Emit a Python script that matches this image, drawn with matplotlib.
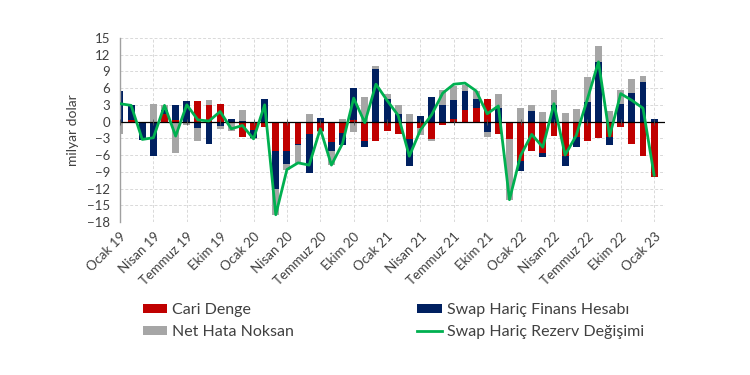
import matplotlib
matplotlib.use("Agg")
import matplotlib.pyplot as plt
import numpy as np

plt.rcParams['font.family'] = ['Lato', 'DejaVu Sans']

# aylar: Ocak 2019 - Ocak 2023
ay_adlari = ["Ocak", "Nisan", "Temmuz", "Ekim"]
yillar = ["19", "20", "21", "22", "23"]

cari = [0.0, 0.2, -0.3, -0.3, 1.3, 0.2, -0.1, 3.7, 2.9, 3.1, 0.0, -2.8,
        -1.6, -1.0, -5.2, -5.2, -4.1, -2.3, -1.7, -3.7, -2.0, 0.2, -3.5, -3.4,
        -1.7, -2.3, -3.1, -1.1, -3.1, -0.7, 0.4, 2.0, 2.5, 4.0, -2.2, -3.2,
        -7.0, -5.3, -5.6, -2.5, -6.1, -2.8, -3.5, -2.9, -2.7, -1.0, -4.1, -6.1,
        -9.9]
finans = [5.4, 2.7, -3.0, -5.9, 0.7, 2.8, 3.6, -1.1, -4.1, -0.8, 0.4, 0.1,
          -1.3, 4.0, -6.8, -2.4, -0.1, -7.0, 0.6, -1.5, -2.2, 5.9, -1.1, 9.4,
          4.1, 1.4, -4.8, 1.0, 4.4, 2.9, 3.4, 3.5, 1.5, -1.9, 2.5, 0.0,
          -1.8, 1.9, -0.8, 2.9, -1.8, -1.7, 3.5, 10.7, -1.5, 3.2, 5.2, 7.1,
          0.5]
net_hata = [-2.3, 0.0, 0.0, 3.2, 0.9, -5.6, -0.5, -2.4, 1.0, -0.6, -1.7, 2.0,
            -0.2, 0.0, -4.7, -1.0, -3.2, 1.4, -0.2, -2.6, 0.4, -1.9, 4.4, 0.6,
            0.8, 1.5, 1.4, -1.3, -0.3, 2.7, 2.6, 1.0, 1.4, -0.8, 2.4, -10.8,
            2.5, 1.0, 1.8, 2.7, 1.6, 2.2, 4.4, 2.9, 1.9, 2.5, 2.4, 1.1,
            0.0]
rezerv = [3.2, 2.9, -3.2, -2.9, 2.9, -2.6, 3.0, 0.3, 0.1, 1.8, -1.3, -0.7,
          -3.1, 3.0, -16.7, -8.6, -7.4, -7.8, -1.3, -7.8, -3.9, 4.2, -0.2, 6.7,
          3.8, 1.1, -6.2, -1.5, 1.2, 5.1, 6.7, 6.9, 5.5, 1.4, 2.8, -14.0,
          -6.1, -2.3, -4.6, 3.2, -6.0, -2.5, 4.0, 10.7, -2.6, 5.0, 3.8, 2.4,
          -9.6]


def main():
    x = np.arange(len(cari))
    fig = plt.figure(figsize=(7.5, 3.75), dpi=100)
    ax = fig.add_axes([0.16, 0.408, 0.727, 0.491])

    seriler = [
        (cari, "#C00000", "Cari Denge"),
        (finans, "#002060", "Swap Hariç Finans Hesabı"),
        (net_hata, "#A6A6A6", "Net Hata Noksan"),
    ]
    pos_alt = np.zeros(len(x))
    neg_alt = np.zeros(len(x))
    bars = {}
    for deger, renk, ad in seriler:
        d = np.array(deger)
        alt = np.where(d >= 0, pos_alt, neg_alt)
        bars[ad] = ax.bar(x, d, bottom=alt, width=0.62, color=renk, label=ad, zorder=2)
        pos_alt = pos_alt + np.where(d >= 0, d, 0)
        neg_alt = neg_alt + np.where(d < 0, d, 0)

    cizgi, = ax.plot(x, rezerv, color="#00B050", linewidth=2.0, zorder=3,
                     label="Swap Hariç Rezerv Değişimi")

    ax.axhline(0, color="black", linewidth=0.9, zorder=2.5)
    ticks = x[::3]
    ax.plot(ticks, np.zeros(len(ticks)), linestyle="none", marker="|",
            markersize=4, color="#555555", markeredgewidth=0.6, zorder=2.6)

    etiketler = []
    for i in range(len(ticks)):
        etiketler.append(ay_adlari[i % 4] + " " + yillar[i // 4])
    ax.set_xticks(ticks)
    ax.set_xticklabels(etiketler, rotation=45, ha="right", rotation_mode="anchor",
                       fontsize=9.5, color="#404040")
    ax.tick_params(axis="x", length=0, pad=6)

    ax.set_ylim(-18, 15)
    ax.set_yticks(np.arange(-18, 16, 3))
    ax.tick_params(axis="y", length=0, labelsize=9.5, labelcolor="#404040", pad=7)
    ax.set_xlim(0, 49)

    ax.grid(True, color="#D9D9D9", linestyle=(0, (3, 2)), linewidth=0.7, zorder=0)
    ax.set_axisbelow(True)
    for s in ["top", "right", "bottom"]:
        ax.spines[s].set_visible(False)
    ax.spines["left"].set_color("#A0A0A0")
    ax.spines["left"].set_linewidth(1.0)

    ax.set_ylabel("milyar dolar", fontsize=10, color="#404040", labelpad=6)

    handles = [bars["Cari Denge"], bars["Net Hata Noksan"],
               bars["Swap Hariç Finans Hesabı"], cizgi]
    labels = ["Cari Denge", "Net Hata Noksan",
              "Swap Hariç Finans Hesabı", "Swap Hariç Rezerv Değişimi"]
    fig.legend(handles, labels, loc="upper left", bbox_to_anchor=(0.19, 0.192),
               ncol=2, frameon=False, fontsize=11.5, handlelength=1.56,
               handleheight=0.5, handletextpad=0.3, columnspacing=7.7,
               labelspacing=0.5, borderaxespad=0, borderpad=0,
               labelcolor="#404040")

    fig.savefig("out.png", dpi=100)


if __name__ == "__main__":
    main()
